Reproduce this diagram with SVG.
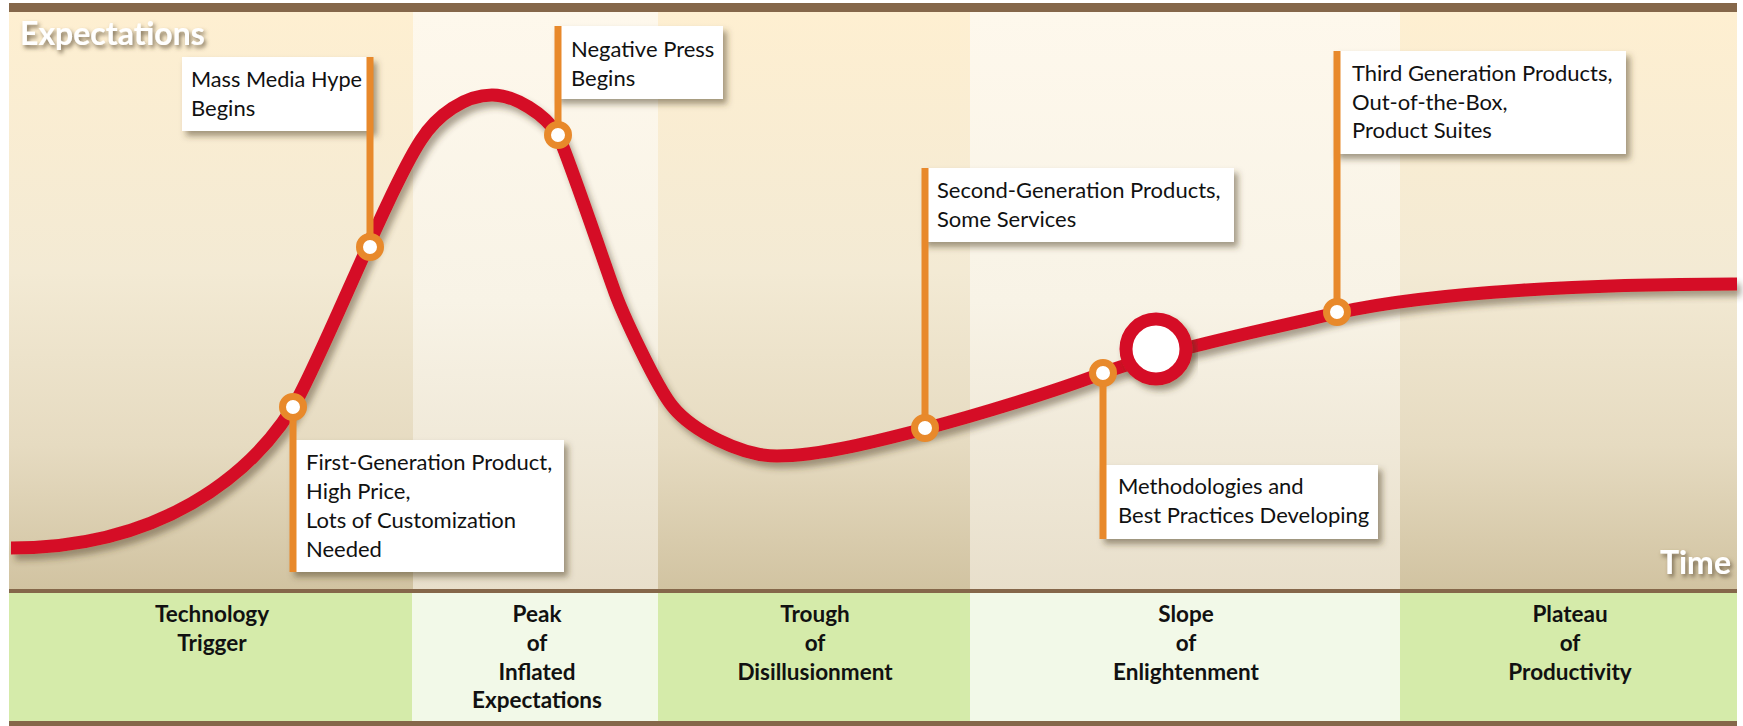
<svg xmlns="http://www.w3.org/2000/svg" width="1743" height="726" viewBox="0 0 1743 726">
  <defs>
    <linearGradient id="bgDark" x1="0" y1="0" x2="0" y2="1">
      <stop offset="0" stop-color="#FEEFD1"/>
      <stop offset="0.45" stop-color="#F3EAD4"/>
      <stop offset="0.75" stop-color="#E6DBC1"/>
      <stop offset="1" stop-color="#D1C3A1"/>
    </linearGradient>
    <linearGradient id="bgLight" x1="0" y1="0" x2="0" y2="1">
      <stop offset="0" stop-color="#FEF8EC"/>
      <stop offset="0.5" stop-color="#F8F3E6"/>
      <stop offset="1" stop-color="#E8DFCB"/>
    </linearGradient>
    <filter id="shadow" x="-20%" y="-20%" width="140%" height="150%">
      <feDropShadow dx="4" dy="5" stdDeviation="3" flood-color="#4a3a22" flood-opacity="0.5"/>
    </filter>
    <filter id="curveShadow" x="-5%" y="-20%" width="110%" height="140%">
      <feDropShadow dx="4" dy="6" stdDeviation="3" flood-color="#4a3a22" flood-opacity="0.45"/>
    </filter>
    <filter id="textShadow" x="-20%" y="-40%" width="140%" height="180%">
      <feDropShadow dx="2" dy="3" stdDeviation="2" flood-color="#5a4a30" flood-opacity="0.75"/>
    </filter>
    <style>
      .band { stroke: none; }
      .bar { fill: #85674A; }
      .box { fill: #FFFFFF; filter: url(#shadow); }
      .lead { stroke: #E8892B; stroke-width: 7; fill: none; }
      .ring { fill: #FFFFFF; stroke: #E8892B; stroke-width: 7; }
      .note { font-family: Lato, "Open Sans", sans-serif; font-size: 22px; fill: #111111; }
      .phase { font-family: Lato, "Open Sans", sans-serif; font-weight: 700; font-size: 22.5px; fill: #111111; text-anchor: middle; }
      .axis { font-family: Lato, "Open Sans", sans-serif; font-weight: 700; font-size: 32px; fill: #FFFFFF; filter: url(#textShadow); }
    </style>
  </defs>

  <!-- chart background: five phase columns -->
  <g id="background">
    <rect class="band" x="9" y="12" width="404" height="578" fill="url(#bgDark)"/>
    <rect class="band" x="413" y="12" width="245" height="578" fill="url(#bgLight)"/>
    <rect class="band" x="658" y="12" width="312" height="578" fill="url(#bgDark)"/>
    <rect class="band" x="970" y="12" width="430" height="578" fill="url(#bgLight)"/>
    <rect class="band" x="1400" y="12" width="337" height="578" fill="url(#bgDark)"/>

    <rect class="band" x="9" y="593" width="403" height="129" fill="#D5EBAA"/>
    <rect class="band" x="412" y="593" width="246" height="129" fill="#F2F9E8"/>
    <rect class="band" x="658" y="593" width="312" height="129" fill="#D5EBAA"/>
    <rect class="band" x="970" y="593" width="430" height="129" fill="#F2F9E8"/>
    <rect class="band" x="1400" y="593" width="337" height="129" fill="#D5EBAA"/>

    <rect class="bar" x="9" y="3" width="1728" height="9"/>
    <rect class="bar" x="9" y="589" width="1728" height="4"/>
    <rect class="bar" x="9" y="721" width="1728" height="5"/>
  </g>

  <!-- axis labels -->
  <text class="axis" x="20" y="45">Expectations</text>
  <text class="axis" x="1731" y="574" text-anchor="end">Time</text>

  <!-- hype curve -->
  <g id="curve">
    <path d="M 11 548 C 160 548 250 476 293 407 C 317 369 388 190 421 140 C 437 115 465 95 492 95 C 515 95 545 114 558 135 C 567 153 606 268 613 287 C 621 311 657 388 673 407 C 692 430 740 456 777 456 C 820 456 882 440 924 429 C 977 415 1053 392 1103 373 C 1159 352 1267 329 1337 313 C 1434 291 1600 284 1737 284" fill="none" stroke="#D50F25" stroke-width="13" filter="url(#curveShadow)"/>
    <circle cx="1156" cy="349" r="30" fill="#FFFFFF" stroke="#D50F25" stroke-width="13" filter="url(#shadow)"/>
  </g>

  <!-- annotation boxes -->
  <g id="note-mass-media">
    <rect class="box" x="182" y="57" width="191" height="74"/>
    <text class="note" x="191" y="87" textLength="171" lengthAdjust="spacingAndGlyphs">Mass Media Hype</text>
    <text class="note" x="191" y="116">Begins</text>
  </g>
  <g id="note-negative-press">
    <rect class="box" x="555" y="26" width="168" height="73"/>
    <text class="note" x="571" y="57">Negative Press</text>
    <text class="note" x="571" y="86">Begins</text>
  </g>
  <g id="note-first-generation">
    <rect class="box" x="290" y="440" width="274" height="132"/>
    <text class="note" x="306" y="470">First-Generation Product,</text>
    <text class="note" x="306" y="499">High Price,</text>
    <text class="note" x="306" y="528">Lots of Customization</text>
    <text class="note" x="306" y="557">Needed</text>
  </g>
  <g id="note-second-generation">
    <rect class="box" x="922" y="168" width="312" height="74"/>
    <text class="note" x="937" y="198">Second-Generation Products,</text>
    <text class="note" x="937" y="227">Some Services</text>
  </g>
  <g id="note-methodologies">
    <rect class="box" x="1100" y="465" width="278" height="74"/>
    <text class="note" x="1118" y="494">Methodologies and</text>
    <text class="note" x="1118" y="523">Best Practices Developing</text>
  </g>
  <g id="note-third-generation">
    <rect class="box" x="1334" y="51" width="292" height="103"/>
    <text class="note" x="1352" y="81">Third Generation Products,</text>
    <text class="note" x="1352" y="110">Out-of-the-Box,</text>
    <text class="note" x="1352" y="138">Product Suites</text>
  </g>

  <!-- leader lines from the curve to each note -->
  <g id="connectors">
    <line class="lead" x1="370" y1="57" x2="370" y2="247"/>
    <line class="lead" x1="558" y1="26" x2="558" y2="135"/>
    <line class="lead" x1="293" y1="407" x2="293" y2="572"/>
    <line class="lead" x1="925" y1="168" x2="925" y2="428"/>
    <line class="lead" x1="1103" y1="373" x2="1103" y2="539"/>
    <line class="lead" x1="1337" y1="51" x2="1337" y2="312"/>
    <circle class="ring" cx="370" cy="247" r="10.5"/>
    <circle class="ring" cx="558" cy="135" r="10.5"/>
    <circle class="ring" cx="293" cy="407" r="10.5"/>
    <circle class="ring" cx="925" cy="428" r="10.5"/>
    <circle class="ring" cx="1103" cy="373" r="10.5"/>
    <circle class="ring" cx="1337" cy="312" r="10.5"/>
  </g>

  <!-- phase names -->
  <g id="phase-trigger">
    <text class="phase" x="212" y="622">Technology</text>
    <text class="phase" x="212" y="651">Trigger</text>
  </g>
  <g id="phase-peak">
    <text class="phase" x="537" y="622">Peak</text>
    <text class="phase" x="537" y="651">of</text>
    <text class="phase" x="537" y="680">Inflated</text>
    <text class="phase" x="537" y="708">Expectations</text>
  </g>
  <g id="phase-trough">
    <text class="phase" x="815" y="622">Trough</text>
    <text class="phase" x="815" y="651">of</text>
    <text class="phase" x="815" y="680">Disillusionment</text>
  </g>
  <g id="phase-slope">
    <text class="phase" x="1186" y="622">Slope</text>
    <text class="phase" x="1186" y="651">of</text>
    <text class="phase" x="1186" y="680">Enlightenment</text>
  </g>
  <g id="phase-plateau">
    <text class="phase" x="1570" y="622">Plateau</text>
    <text class="phase" x="1570" y="651">of</text>
    <text class="phase" x="1570" y="680">Productivity</text>
  </g>
</svg>
